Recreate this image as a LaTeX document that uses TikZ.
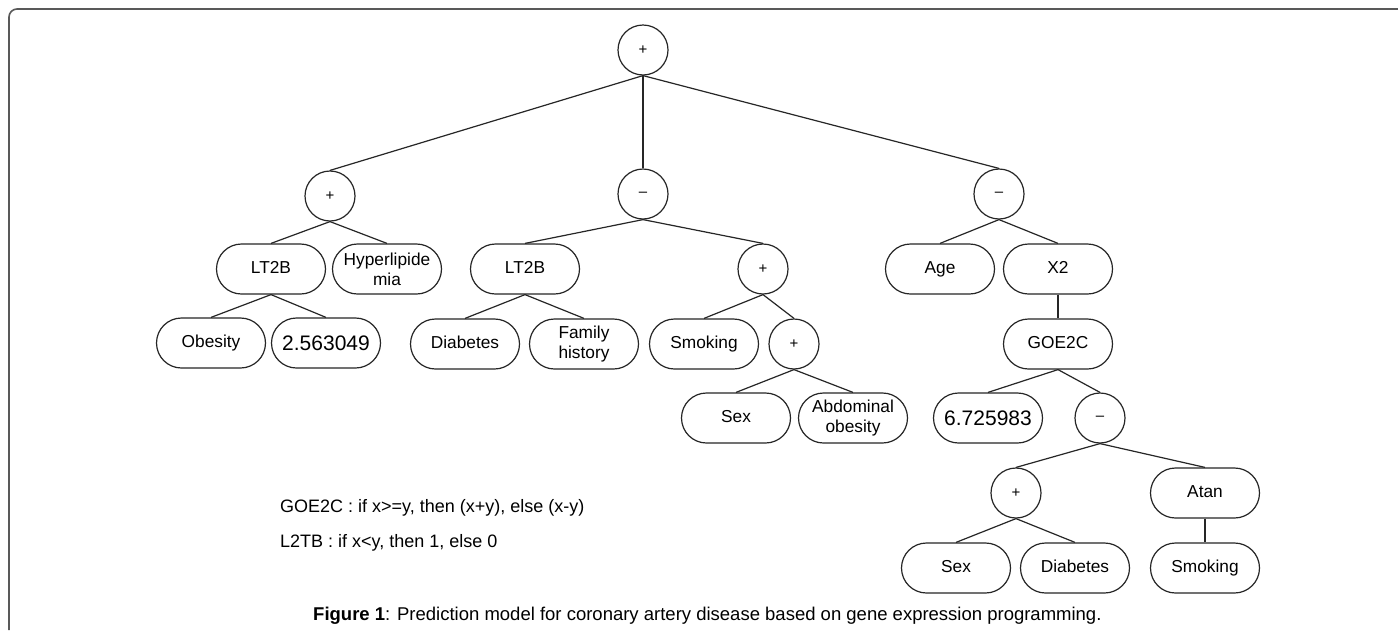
\documentclass[tikz,border=0pt]{standalone}
\usepackage{fontspec}
\setmainfont{Liberation Sans}
\begin{document}
\begin{tikzpicture}[x=1pt,y=-1pt,
  every node/.style={inner sep=0pt},
  opnode/.style={draw=black!85,line width=1.2pt,circle,minimum size=50pt,font=\fontsize{15}{16}\selectfont},
  boxnode/.style={draw=black!85,line width=1.2pt,rectangle,rounded corners=25pt,minimum width=109pt,minimum height=50pt,align=center,font=\fontsize{17.3}{20}\selectfont},
  onebox/.style={boxnode,text height=12.5pt,text depth=3.6pt},
  numnode/.style={boxnode,font=\fontsize{21}{24}\selectfont,text height=15pt,text depth=0pt},
  edge/.style={draw=black!85,line width=1.2pt},
  note/.style={anchor=west,font=\fontsize{18}{20}\selectfont}]
\useasboundingbox (0,0) rectangle (1398,630);
\fill[white] (0,0) rectangle (1398,630);
% frame
\draw[black!65,line width=1.6pt] (9,630) -- (9,17) arc[start angle=180,end angle=270,radius=8] -- (1398,9);
% nodes
\node[opnode] (top) at (643,50) {+};
\node[opnode] (lp) at (330,196) {+};
\node[opnode] (mm) at (643,194) {--};
\node[opnode] (rm) at (999,194) {--};
\node[onebox] (lta) at (271,269) {LT2B};
\node[boxnode] (hyp) at (387,269) {Hyperlipide\\mia};
\node[onebox] (obe) at (211,343) {Obesity};
\node[numnode] (n1) at (326,343) {2.563049};
\node[onebox] (ltb) at (525,269) {LT2B};
\node[opnode] (mp) at (763,269) {+};
\node[onebox] (dia) at (465,344) {Diabetes};
\node[boxnode] (fam) at (584,344) {Family\\history};
\node[onebox] (smo) at (704,344) {Smoking};
\node[opnode] (mp2) at (794,344) {+};
\node[onebox] (sexa) at (736,418) {Sex};
\node[boxnode] (abd) at (853,418) {Abdominal\\obesity};
\node[onebox] (age) at (940,269) {Age};
\node[onebox] (x2) at (1058,269) {X2};
\node[onebox] (goe) at (1058,344) {GOE2C};
\node[numnode] (n2) at (988,418) {6.725983};
\node[opnode] (rm2) at (1100,418) {--};
\node[opnode] (rp) at (1016,493) {+};
\node[onebox] (atan) at (1205,493) {Atan};
\node[onebox] (sexb) at (956,568) {Sex};
\node[onebox] (diab) at (1075,568) {Diabetes};
\node[onebox] (smob) at (1205,568) {Smoking};
% edges
\foreach \p/\c in {top/lp,top/mm,top/rm,lp/lta,lp/hyp,lta/obe,lta/n1,mm/ltb,mm/mp,ltb/dia,ltb/fam,mp/smo,mp/mp2,mp2/sexa,mp2/abd,rm/age,rm/x2,x2/goe,goe/n2,goe/rm2,rm2/rp,rm2/atan,rp/sexb,rp/diab,atan/smob}
  \draw[edge] (\p.south) -- (\c.north);
% notes
\node[note] (noteA) at (280,508) {GOE2C : if x>=y, then (x+y), else (x-y)};
\node[note] (noteB) at (280,543) {L2TB : if x<y, then 1, else 0};
\node[anchor=west,font=\fontsize{18.5}{20}\selectfont] (cap) at (313,616) {\textbf{Figure 1}: Prediction model for coronary artery disease based on gene expression programming.};
\end{tikzpicture}
\end{document}
